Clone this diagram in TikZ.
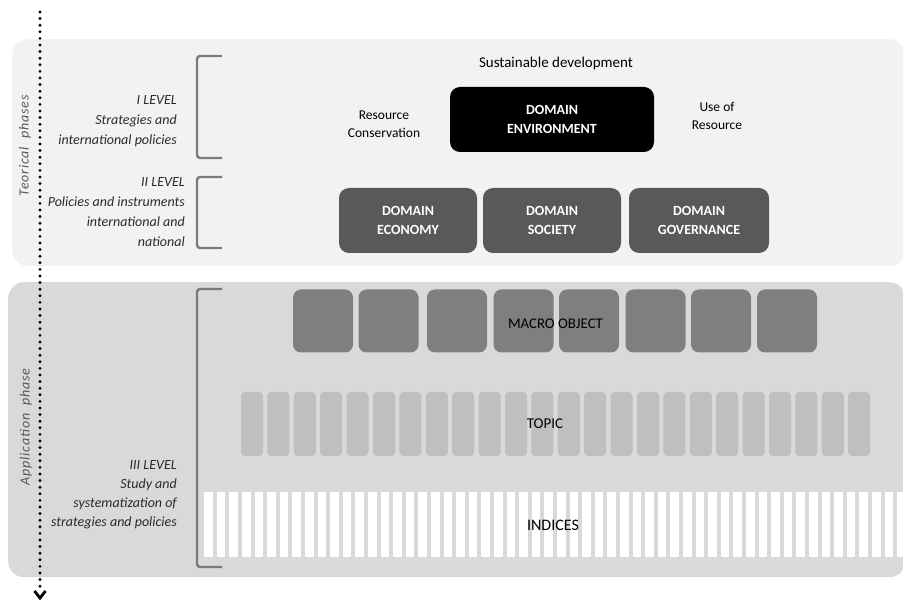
\documentclass[tikz,border=0pt]{standalone}
\usepackage{fontspec}
\setmainfont{Carlito}
\usetikzlibrary{calc}
\definecolor{toppanel}{HTML}{F2F2F2}
\definecolor{botpanel}{HTML}{D9D9D9}
\definecolor{domdark}{HTML}{595959}
\definecolor{macrogray}{HTML}{7F7F7F}
\definecolor{topicgray}{HTML}{BFBFBF}
\definecolor{brackgray}{HTML}{7A7A7A}
\definecolor{labeltext}{HTML}{2B2B2B}
\definecolor{phasetext}{HTML}{595959}
\begin{document}
\begin{tikzpicture}[x=1pt,y=-1pt,
  panel/.style={rounded corners=16pt, inner sep=0pt, anchor=north west},
  dombox/.style={rounded corners=10pt, inner sep=0pt, minimum height=65pt, text=white,
     font=\bfseries\fontsize{14}{19}\selectfont, align=center},
  macrobox/.style={rounded corners=8pt, fill=macrogray, inner sep=0pt, minimum width=60pt, minimum height=63pt},
  topicbar/.style={rounded corners=4pt, fill=topicgray, inner sep=0pt, minimum width=22pt, minimum height=64pt},
  indexbar/.style={fill=white, inner sep=0pt, minimum width=8.6pt, minimum height=65pt},
  levellabel/.style={align=right, text=labeltext, font=\itshape\fontsize{14}{20}\selectfont, inner sep=0pt},
  phaselabel/.style={rotate=90, text=phasetext, font=\itshape\fontsize{14}{16}\selectfont\addfontfeature{LetterSpace=6}, inner sep=0pt},
  plain/.style={align=center, text=black, font=\fontsize{13.5}{18}\selectfont, inner sep=0pt},
  bracketline/.style={draw=brackgray, line width=2.4pt, rounded corners=3pt},
  dotline/.style={line width=3.2pt, line cap=round, dash pattern=on 0pt off 6.6pt}
]
\useasboundingbox (0,0) rectangle (903,601);
\fill[white] (0,0) rectangle (903,601);

% panels
\node[panel, fill=toppanel, minimum width=893pt, minimum height=227pt] (teo) at (12,39) {};
\node[panel, fill=botpanel, minimum width=897pt, minimum height=295pt] (app) at (8,282) {};

% phase labels
\node[phaselabel] (teolab) at (25,146) {Teorical\ \ phases};
\node[phaselabel] (applab) at (26,427) {Application\ \ phase};

% brackets
\draw[bracketline] (222,56) -- (197,56) -- (197,158) -- (222,158);
\draw[bracketline] (222,177) -- (197,177) -- (197,248) -- (222,248);
\draw[bracketline] (222,289) -- (197,289) -- (197,567) -- (222,567);

% level labels
\node[levellabel, anchor=east] (lev1) at (177,121) {I LEVEL\\Strategies and\\international policies};
\node[levellabel, anchor=east] (lev2) at (185,212.5) {II LEVEL\\Policies and instruments\\international and\\national};
\node[levellabel, anchor=east, font=\itshape\fontsize{14}{19}\selectfont] (lev3) at (177,495) {III LEVEL\\Study and\\systematization of\\strategies and policies};

% top level
\node[plain, font=\fontsize{15}{18}\selectfont] (sust) at (556,64) {Sustainable development};
\node[dombox, fill=black, minimum width=204pt] (env) at (552,119.5) {DOMAIN\\ENVIRONMENT};
\node[plain] (cons) at (384,124) {Resource\\Conservation};
\node[plain] (use) at (717,116) {Use of\\Resource};

% second level
\node[dombox, fill=domdark, minimum width=138pt] (eco) at (408,220.5) {DOMAIN\\ECONOMY};
\node[dombox, fill=domdark, minimum width=138pt] (soc) at (552,220.5) {DOMAIN\\SOCIETY};
\node[dombox, fill=domdark, minimum width=140pt] (gov) at (699,220.5) {DOMAIN\\GOVERNANCE};

% macro objects
\foreach \i/\x in {1/323,2/388.5,3/457,4/523.5,5/589,6/655.5,7/721,8/787}{
  \node[macrobox] (m\i) at (\x,321) {};
}
\node[plain, font=\fontsize{14.8}{18}\selectfont] (macro) at (555.5,324) {MACRO OBJECT};

% topics
\foreach \i in {0,...,23}{
  \node[topicbar] (t\i) at ({252+26.4*\i},424) {};
}
\node[plain, font=\fontsize{15}{18}\selectfont] (topic) at (545,424) {TOPIC};

% indices
\foreach \i in {0,...,55}{
  \node[indexbar] (ix\i) at ({208.5+12.6*\i},524.5) {};
}
\node[plain, font=\fontsize{16}{18}\selectfont] (indices) at (553,525) {INDICES};

% dotted arrow
\coordinate (arrS) at (40,12);
\coordinate (arrT) at (40,588);
\coordinate (arrE) at (40,598);
\draw[dotline] (arrS) -- (arrT);
\draw[line width=2.8pt, line join=miter] ($(arrE)+(-5.5,-7)$) -- (arrE) -- ($(arrE)+(5.5,-7)$);
\end{tikzpicture}
\end{document}
